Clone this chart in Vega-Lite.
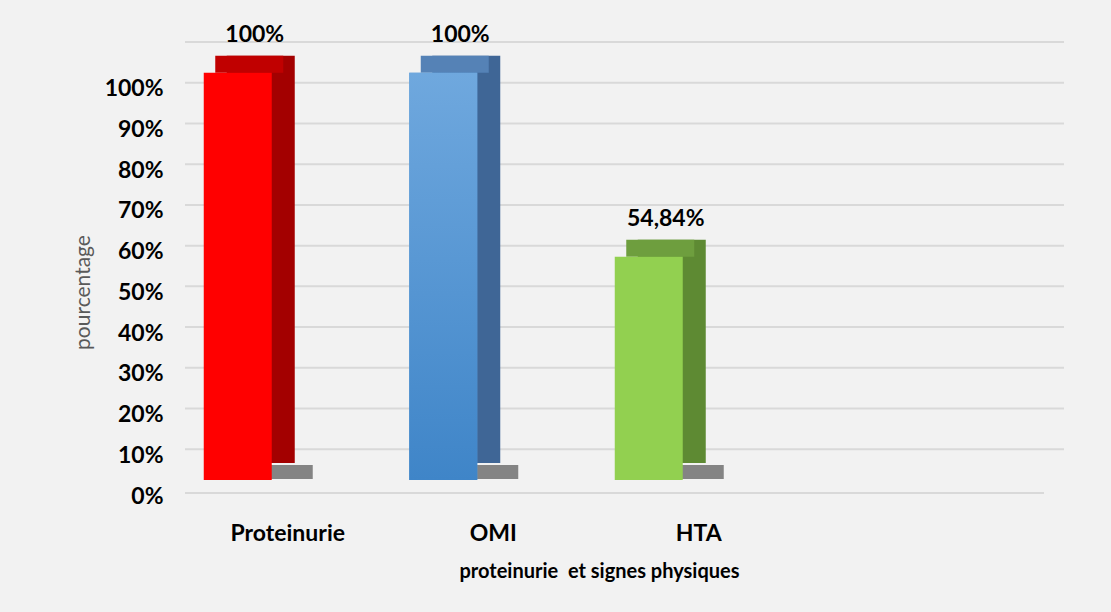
{
  "$schema": "https://vega.github.io/schema/vega-lite/v6.json",
  "width": 859,
  "height": 448,
  "autosize": {"type": "none"},
  "padding": {"left": 185, "top": 42, "right": 67, "bottom": 122},
  "background": "#f2f2f2",
  "config": {"view": {"stroke": null}, "font": "Lato"},
  "datasets": {
    "bars": [
      {"cat": "Proteinurie", "value": 1.0, "label": "100%"},
      {"cat": "OMI", "value": 1.0, "label": "100%"},
      {"cat": "HTA", "value": 0.5484, "label": "54,84%"}
    ],
    "grid": [
      {"g": 0.1}, {"g": 0.2}, {"g": 0.3}, {"g": 0.4}, {"g": 0.5}, {"g": 0.6},
      {"g": 0.7}, {"g": 0.8}, {"g": 0.9}, {"g": 1.0}, {"g": 1.1}
    ],
    "floor": [{"f": 0}]
  },
  "resolve": {"scale": {"color": "independent"}},
  "layer": [
    {
      "data": {"name": "grid"},
      "mark": {"type": "rule", "color": "#d9d9d9", "strokeWidth": 2, "xOffset": 20, "x2Offset": 20},
      "encoding": {
        "y": {"field": "g", "type": "quantitative", "scale": {"domain": [0, 1.1], "nice": false, "zero": true},
          "axis": {"values": [0, 0.1, 0.2, 0.3, 0.4, 0.5, 0.6, 0.7, 0.8, 0.9, 1.0], "format": ".0%", "grid": false,
            "ticks": false, "domain": false, "labelFont": "Lato", "labelFontWeight": "bold", "labelFontSize": 23,
            "labelColor": "#000000", "labelPadding": 22, "labelOffset": 6,
            "title": "pourcentage", "titleFont": "Lato", "titleFontWeight": "normal", "titleFontSize": 21,
            "titleColor": "#595959", "titleX": -102, "titleY": 250, "titleBaseline": "middle"}}
      }
    },
    {
      "data": {"name": "floor"},
      "mark": {"type": "rule", "color": "#d9d9d9", "strokeWidth": 2, "yOffset": 3},
      "encoding": {
        "y": {"field": "f", "type": "quantitative", "scale": {"domain": [0, 1.1], "nice": false}}
      }
    },
    {
      "data": {"name": "bars"},
      "mark": {"type": "tick", "orient": "horizontal", "color": "#3a3a3a", "opacity": 0.6, "size": 106, "thickness": 14, "xOffset": -28, "yOffset": -18},
      "encoding": {
        "x": {"field": "cat", "type": "nominal", "sort": null,
          "scale": {"domain": ["Proteinurie", "OMI", "HTA"], "paddingInner": 0, "paddingOuter": 0.59, "align": 0, "round": false}},
        "y": {"datum": 0, "type": "quantitative", "scale": {"domain": [0, 1.1], "nice": false}}
      }
    },
    {
      "data": {"name": "bars"},
      "mark": {"type": "bar", "width": 68, "xOffset": -27, "yOffset": -27, "y2Offset": -27},
      "encoding": {
        "x": {"field": "cat", "type": "nominal", "sort": null,
          "scale": {"domain": ["Proteinurie", "OMI", "HTA"], "paddingInner": 0, "paddingOuter": 0.59, "align": 0, "round": false},
          "axis": {"title": "proteinurie\u00a0 et signes physiques", "labelAngle": 0, "labelAlign": "center", "ticks": false, "domain": false,
            "labelFont": "Lato", "labelFontWeight": "bold", "labelFontSize": 23, "labelColor": "#000000",
            "labelPadding": 43,
            "titleFont": "Lato", "titleFontWeight": "bold", "titleFontSize": 20, "titleColor": "#000000",
            "titlePadding": 16, "titleX": 414}},
        "y": {"field": "value", "type": "quantitative", "scale": {"domain": [0, 1.1], "nice": false}},
        "color": {"field": "cat", "type": "nominal", "legend": null,
          "scale": {"domain": ["Proteinurie", "OMI", "HTA"], "range": ["#a30000", "#3f6696", "#5e8a33"]}}
      }
    },
    {
      "data": {"name": "bars"},
      "mark": {"type": "tick", "orient": "horizontal", "size": 68, "thickness": 17, "xOffset": -38.5, "yOffset": -18.5, "opacity": 1},
      "encoding": {
        "x": {"field": "cat", "type": "nominal", "sort": null,
          "scale": {"domain": ["Proteinurie", "OMI", "HTA"], "paddingInner": 0, "paddingOuter": 0.59, "align": 0, "round": false}},
        "y": {"field": "value", "type": "quantitative", "scale": {"domain": [0, 1.1], "nice": false}},
        "color": {"field": "cat", "type": "nominal", "legend": null,
          "scale": {"domain": ["Proteinurie", "OMI", "HTA"], "range": ["#c00000", "#5582b6", "#6e9e3e"]}}
      }
    },
    {
      "data": {"name": "bars"},
      "mark": {"type": "bar", "width": 68, "xOffset": -50, "yOffset": -10, "y2Offset": -10},
      "encoding": {
        "x": {"field": "cat", "type": "nominal", "sort": null,
          "scale": {"domain": ["Proteinurie", "OMI", "HTA"], "paddingInner": 0, "paddingOuter": 0.59, "align": 0, "round": false}},
        "y": {"field": "value", "type": "quantitative", "scale": {"domain": [0, 1.1], "nice": false}},
        "color": {"field": "cat", "type": "nominal", "legend": null,
          "scale": {"domain": ["Proteinurie", "OMI", "HTA"], "range": ["#ff0000", "#5b9bd5", "#92d050"]}}
      }
    },
    {
      "data": {"name": "bars"},
      "transform": [{"filter": "datum.cat === 'OMI'"}],
      "mark": {"type": "bar", "width": 68, "xOffset": -50, "yOffset": -10, "y2Offset": -10,
        "color": {"gradient": "linear", "x1": 0, "y1": 0, "x2": 0, "y2": 1,
          "stops": [{"offset": 0, "color": "#6fa8de"}, {"offset": 1, "color": "#3f85c8"}]}},
      "encoding": {
        "x": {"field": "cat", "type": "nominal", "sort": null,
          "scale": {"domain": ["Proteinurie", "OMI", "HTA"], "paddingInner": 0, "paddingOuter": 0.59, "align": 0, "round": false}},
        "y": {"field": "value", "type": "quantitative", "scale": {"domain": [0, 1.1], "nice": false}}
      }
    },
    {
      "data": {"name": "bars"},
      "mark": {"type": "text", "font": "Lato", "fontWeight": "bold", "fontSize": 23, "color": "#000000",
        "baseline": "middle", "align": "center", "xOffset": -33, "yOffset": -48},
      "encoding": {
        "x": {"field": "cat", "type": "nominal", "sort": null,
          "scale": {"domain": ["Proteinurie", "OMI", "HTA"], "paddingInner": 0, "paddingOuter": 0.59, "align": 0, "round": false}},
        "y": {"field": "value", "type": "quantitative", "scale": {"domain": [0, 1.1], "nice": false}},
        "text": {"field": "label"}
      }
    }
  ]
}
